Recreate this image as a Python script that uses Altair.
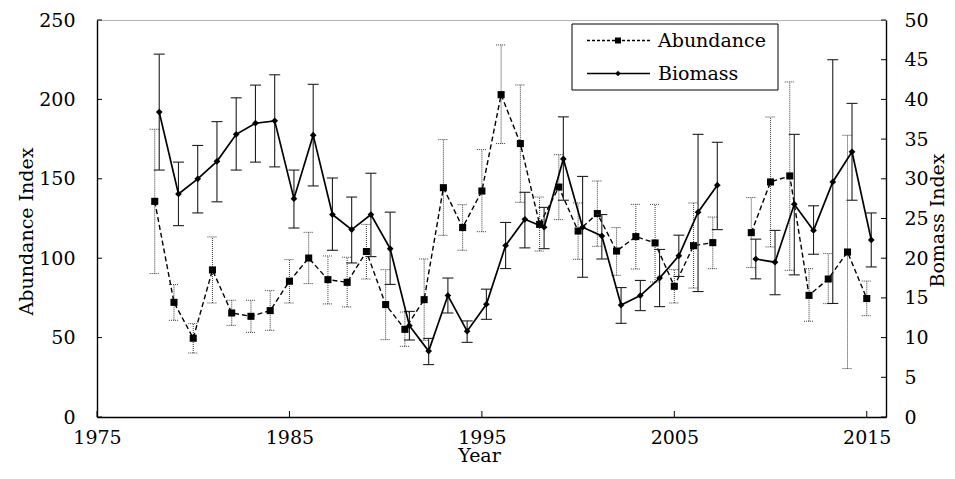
import altair as alt
import pandas as pd

FONT = "DejaVu Serif"
FS = 19

years = [1978, 1979, 1980, 1981, 1982, 1983, 1984, 1985, 1986, 1987,
         1988, 1989, 1990, 1991, 1992, 1993, 1994, 1995, 1996, 1997,
         1998, 1999, 2000, 2001, 2002, 2003, 2004, 2005, 2006, 2007,
         2009, 2010, 2011, 2012, 2013, 2014, 2015]

abundance = [135.8, 72.2, 49.6, 92.6, 65.5, 63.4, 67.0, 85.5, 100.1, 86.5,
             84.8, 104.2, 70.8, 55.2, 73.9, 144.4, 119.3, 142.3, 203.0, 172.2,
             121.3, 144.8, 117.1, 128.1, 104.5, 113.6, 109.6, 82.3, 107.9, 109.8,
             116.1, 148.0, 151.8, 76.6, 86.9, 103.9, 74.6]
abundance_hi = [181.2, 83.4, 58.8, 113.4, 73.5, 73.5, 79.6, 99.1, 116.3, 101.4,
                100.6, 121.3, 92.8, 66.1, 99.5, 174.7, 133.7, 168.4, 234.3, 209.1,
                138.5, 165.2, 134.8, 148.6, 119.3, 133.9, 133.9, 92.8, 134.8, 125.9,
                138.2, 188.9, 211.0, 93.4, 102.9, 177.4, 85.6]
abundance_lo = [90.3, 60.9, 40.3, 71.8, 57.7, 53.3, 54.6, 71.8, 84.0, 71.2,
                69.3, 86.9, 48.7, 44.5, 48.3, 114.4, 105.0, 116.7, 172.2, 135.2,
                104.5, 124.3, 99.3, 107.5, 89.2, 93.2, 85.0, 71.8, 81.2, 93.4,
                94.1, 107.1, 92.4, 60.3, 71.4, 30.5, 63.8]

biomass = [38.4, 28.1, 30.0, 32.2, 35.6, 37.0, 37.3, 27.5, 35.5, 25.5,
           23.6, 25.5, 21.2, 11.5, 8.3, 15.3, 10.8, 14.2, 21.6, 24.9,
           23.9, 32.5, 23.9, 22.8, 14.1, 15.3, 17.5, 20.3, 25.8, 29.2,
           19.9, 19.5, 26.8, 23.5, 29.6, 33.4, 22.3]
biomass_hi = [45.7, 32.1, 34.2, 37.2, 40.2, 41.8, 43.1, 31.1, 41.9, 30.1,
              27.7, 30.7, 25.8, 13.3, 9.9, 17.5, 12.1, 16.1, 24.5, 28.3,
              26.4, 37.8, 30.3, 25.5, 16.3, 17.2, 21.1, 22.9, 35.6, 34.6,
              22.4, 23.5, 35.6, 26.6, 45.0, 39.5, 25.7]
biomass_lo = [31.1, 24.1, 25.7, 27.1, 31.1, 32.1, 31.5, 23.8, 29.1, 21.0,
              19.4, 20.2, 16.7, 9.7, 6.6, 13.1, 9.4, 12.3, 18.7, 21.3,
              21.2, 27.3, 17.6, 19.9, 11.8, 13.4, 13.9, 17.7, 15.8, 23.6,
              17.4, 15.4, 17.9, 20.5, 14.3, 27.3, 18.9]

x_ticks = [1975, 1985, 1995, 2005, 2015]
left_ticks = [0, 50, 100, 150, 200, 250]
right_ticks = [0, 5, 10, 15, 20, 25, 30, 35, 40, 45, 50]
legend_labels = ["Abundance", "Biomass"]

W, H = 789, 397

df = pd.DataFrame({
    "Year": years,
    "Abundance": abundance, "A_lo": abundance_lo, "A_hi": abundance_hi,
    "Biomass": biomass, "B_lo": biomass_lo, "B_hi": biomass_hi,
})
df["seg"] = (df["Year"] > 2008).astype(int)

x_scale = alt.Scale(domain=[1975, 2016], nice=False, zero=False)
x_axis = alt.Axis(values=x_ticks, format="d", title="Year", labelPadding=11, labelFlush=False,
                  titleX=382, titleY=44, titleBaseline="alphabetic", titleAlign="center")


def X(field="Year"):
    return alt.X(field, type="quantitative", scale=x_scale, axis=x_axis)


a_scale = alt.Scale(domain=[0, 250], nice=False)
a_axis = alt.Axis(values=left_ticks, title="Abundance Index", orient="left",
                  labelPadding=22, labelFlush=False, titleAngle=270, titleX=-65, titleY=211,
                  titleBaseline="alphabetic", titleAlign="center")
b_scale = alt.Scale(domain=[0, 50], nice=False)
b_axis = alt.Axis(values=right_ticks, title="Bomass Index", orient="right",
                  labelPadding=18, labelFlush=False, titleAngle=270, titleX=57, titleY=200,
                  titleBaseline="alphabetic", titleAlign="center")


def YA(field):
    return alt.Y(field, type="quantitative", scale=a_scale, axis=a_axis)


def YB(field):
    return alt.Y(field, type="quantitative", scale=b_scale, axis=b_axis)


base = alt.Chart(df)

# ---- Abundance ----
ACOL = "#3a3a3a"
a_err = base.mark_rule(color=ACOL, strokeWidth=1, strokeDash=[1, 1]).encode(
    x=X(), y=YA("A_lo"), y2="A_hi")
a_cap_hi = base.mark_rule(color=ACOL, strokeWidth=1, strokeDash=[1, 1],
                          xOffset=-5, x2Offset=5).encode(x=X(), x2="Year", y=YA("A_hi"))
a_cap_lo = base.mark_rule(color=ACOL, strokeWidth=1, strokeDash=[1, 1],
                          xOffset=-5, x2Offset=5).encode(x=X(), x2="Year", y=YA("A_lo"))
a_line = base.mark_line(color="black", strokeWidth=1.4, strokeDash=[5, 3]).encode(
    x=X(), y=YA("Abundance"), detail="seg:N")
a_pts = base.mark_point(shape="square", filled=True, size=50, color="black", opacity=1).encode(
    x=X(), y=YA("Abundance"))
a_ticks = alt.Chart(pd.DataFrame({"v": left_ticks})).mark_rule(color="black", strokeWidth=1).encode(
    y=YA("v"), x=alt.value(0), x2=alt.value(5))
x_inner = alt.Chart(pd.DataFrame({"t": x_ticks})).mark_rule(color="black", strokeWidth=1).encode(
    x=X("t"), y=alt.value(H), y2=alt.value(H - 6))

abund_layer = alt.layer(a_err, a_cap_hi, a_cap_lo, a_line, a_pts, a_ticks, x_inner)

# ---- Biomass ----
OFF = 4.5
BCOL = "#1e1e1e"
b_err = base.mark_rule(color=BCOL, strokeWidth=1.1, xOffset=OFF).encode(
    x=X(), y=YB("B_lo"), y2="B_hi")
b_cap_hi = base.mark_rule(color=BCOL, strokeWidth=1.1,
                          xOffset=OFF - 5.5, x2Offset=OFF + 5.5).encode(x=X(), x2="Year", y=YB("B_hi"))
b_cap_lo = base.mark_rule(color=BCOL, strokeWidth=1.1,
                          xOffset=OFF - 5.5, x2Offset=OFF + 5.5).encode(x=X(), x2="Year", y=YB("B_lo"))
b_line = base.mark_line(color="black", strokeWidth=1.7, xOffset=OFF).encode(
    x=X(), y=YB("Biomass"), detail="seg:N")
b_pts = base.mark_point(shape="diamond", filled=True, size=45, color="black", opacity=1,
                        xOffset=OFF).encode(x=X(), y=YB("Biomass"))
b_ticks = alt.Chart(pd.DataFrame({"v": right_ticks})).mark_rule(color="black", strokeWidth=1).encode(
    y=YB("v"), x=alt.value(W - 5), x2=alt.value(W))

bio_layer = alt.layer(b_err, b_cap_hi, b_cap_lo, b_line, b_pts, b_ticks)

# ---- Legend (manual, drawn in plot pixel space) ----
leg_df = pd.DataFrame({"label": legend_labels})
leg_box = alt.Chart(leg_df.head(1)).mark_rect(fill="white", stroke="black", strokeWidth=1).encode(
    x=alt.value(475), x2=alt.value(681), y=alt.value(4), y2=alt.value(70))


def legend_entry(idx, y_line, dash, shape, size, sw):
    d = alt.Chart(leg_df.iloc[[idx]])
    ln = d.mark_rule(color="black", strokeWidth=sw, strokeDash=dash).encode(
        x=alt.value(490), x2=alt.value(553), y=alt.value(y_line))
    pt = d.mark_point(shape=shape, filled=True, size=size, color="black", opacity=1).encode(
        x=alt.value(521), y=alt.value(y_line))
    tx = d.mark_text(align="left", baseline="middle", font=FONT, fontSize=FS, color="black").encode(
        x=alt.value(561), y=alt.value(y_line), text="label:N")
    return [ln, pt, tx]


legend = alt.layer(leg_box,
                   *legend_entry(0, 20.5, [3, 2], "square", 36, 1.3),
                   *legend_entry(1, 53.5, [1, 0], "diamond", 30, 1.5))

chart = alt.layer(abund_layer, bio_layer, legend).resolve_scale(y="independent").properties(
    width=W, height=H,
    autosize=alt.AutoSizeParams(type="none"),
    padding={"left": 89, "top": 12, "right": 61, "bottom": 48},
).configure_view(
    stroke="#b3b3b3", strokeWidth=1
).configure_axis(
    domainColor="black", domainWidth=1.4, grid=False, ticks=False, tickSize=0,
    labelFont=FONT, labelFontSize=FS, labelColor="black",
    titleFont=FONT, titleFontSize=FS, titleFontWeight="normal", titleColor="black",
)

chart.save("out.html", embed_options={"renderer": "svg", "actions": False})
